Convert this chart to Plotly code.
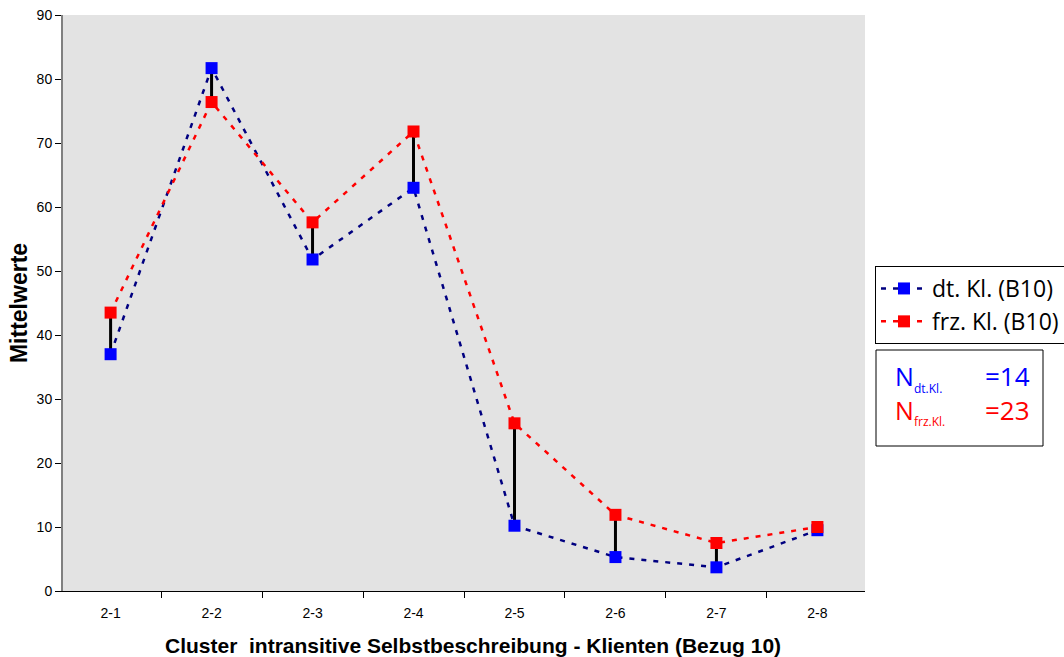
import plotly.graph_objects as go

categories = ["2-1", "2-2", "2-3", "2-4", "2-5", "2-6", "2-7", "2-8"]
dt_values = [37.0, 81.7, 51.8, 63.0, 10.2, 5.3, 3.7, 9.5]
frz_values = [43.5, 76.4, 57.6, 71.8, 26.2, 11.9, 7.5, 10.0]
n_dt = 14
n_frz = 23

# connector segments between the two series
seg_x, seg_y = [], []
for c, a, b in zip(categories, dt_values, frz_values):
    seg_x += [c, c, None]
    seg_y += [a, b, None]

fig = go.Figure()
fig.add_trace(go.Scatter(x=seg_x, y=seg_y, mode="lines",
                         line=dict(color="black", width=3),
                         showlegend=False, hoverinfo="skip"))
fig.add_trace(go.Scatter(x=categories, y=dt_values, mode="lines+markers",
                         name="dt. Kl. (B10)",
                         line=dict(color="#000080", width=2.5, dash="5px,7px"),
                         marker=dict(symbol="square", size=12, color="#0000ff")))
fig.add_trace(go.Scatter(x=categories, y=frz_values, mode="lines+markers",
                         name="frz. Kl. (B10)",
                         line=dict(color="#ff0000", width=2.5, dash="5px,7px"),
                         marker=dict(symbol="square", size=12, color="#ff0000")))

def px_x(p):
    return (p - 63) / 802.0

def px_y(p):
    return (591 - p) / 576.0

blue = "#0000ff"
red = "#ff0000"
ann = []
for (label, sub, n, color, cy, sy) in [("N", "dt.Kl.", n_dt, blue, 376, 388),
                                       ("N", "frz.Kl.", n_frz, red, 410, 421)]:
    ann.append(dict(xref="paper", yref="paper", x=px_x(893), y=px_y(cy),
                    xanchor="left", yanchor="middle", text=label, showarrow=False,
                    font=dict(family="Open Sans", size=25, color=color)))
    ann.append(dict(xref="paper", yref="paper", x=px_x(912), y=px_y(sy),
                    xanchor="left", yanchor="middle", text=sub, showarrow=False,
                    font=dict(family="Open Sans", size=12, color=color)))
    ann.append(dict(xref="paper", yref="paper", x=px_x(1032), y=px_y(cy),
                    xanchor="right", yanchor="middle", text="=" + str(n), showarrow=False,
                    font=dict(family="Open Sans", size=26, color=color)))

ann.append(dict(xref="paper", yref="paper", x=px_x(473), y=px_y(645),
                xanchor="center", yanchor="middle", showarrow=False,
                text="<b>Cluster  intransitive Selbstbeschreibung - Klienten (Bezug 10)</b>",
                font=dict(family="Liberation Sans, Arial", size=21, color="black")))

fig.update_layout(
    width=1064, height=657,
    margin=dict(l=63, r=199, t=15, b=66, autoexpand=False),
    paper_bgcolor="white",
    plot_bgcolor="#e3e3e3",
    font=dict(family="Liberation Sans, Arial", size=14, color="black"),
    legend=dict(xref="container", yref="container",
                x=875 / 1064.0, y=1 - 266 / 657.0, xanchor="left", yanchor="top",
                bordercolor="black", borderwidth=1, bgcolor="white",
                font=dict(family="Open Sans", size=23, color="black"),
                tracegroupgap=0, itemwidth=46),
    xaxis=dict(
        type="category", categoryorder="array", categoryarray=categories,
        showline=True, linecolor="black", linewidth=1,
        ticks="outside", tickson="boundaries", ticklen=6, tickcolor="black",
        ticklabelstandoff=9,
        showgrid=False, zeroline=False,
        tickfont=dict(size=14),
    ),
    yaxis=dict(
        range=[0, 90], dtick=10,
        showline=True, linecolor="#808080", linewidth=2,
        ticks="outside", ticklen=6, tickcolor="black",
        showgrid=False, zeroline=False,
        title=dict(text="<b>Mittelwerte</b>",
                   font=dict(family="Liberation Sans, Arial", size=23), standoff=3),
        tickfont=dict(size=14),
    ),
    shapes=[dict(type="rect", xref="paper", yref="paper",
                 x0=px_x(876), x1=px_x(1043), y0=px_y(446), y1=px_y(350),
                 line=dict(color="black", width=1), fillcolor="white")],
    annotations=ann,
)

fig.write_html("out.html")
